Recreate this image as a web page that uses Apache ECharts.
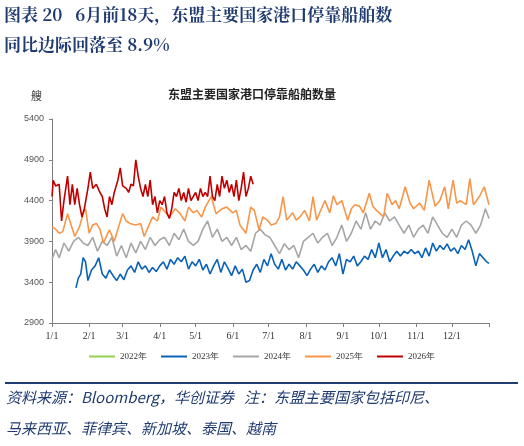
<!DOCTYPE html>
<html><head><meta charset="utf-8">
<script src="https://cdn.jsdelivr.net/npm/echarts@6/dist/echarts.min.js"></script>
<style>html,body{margin:0;padding:0;background:#fff}#c{width:524px;height:446px}</style>
</head><body><div id="c"></div>
<script>
const monthStarts = [0,31,59,90,120,151,181,212,243,273,304,334];
const monthLabels = ['1/1','2/1','3/1','4/1','5/1','6/1','7/1','8/1','9/1','10/1','11/1','12/1'];
const yTicks = [2900,3400,3900,4400,4900,5400];
const seriesNames = ['2022年','2023年','2024年','2025年','2026年'];
const seriesColors = ['#92d050','#0a62b8','#a6a6a6','#f7964a','#c00000'];

const days2023 = [20,22,24,26,28,30,33,36,39,42,45,48,51,54,57,60,63,66,69,72,75,78,81,84,87,90,93,96,99,102,105,108,111,114,117,120,123,126,129,132,135,138,141,144,147,150,153,156,159,162,165,168,171,174,177,180,183,186,189,192,195,198,201,204,207,210,213,216,219,222,225,228,231,234,237,240,243,246,249,252,255,258,261,264,267,270,273,276,279,282,285,288,291,294,297,300,303,306,309,312,315,318,321,324,327,330,333,336,339,342,345,348,351,354,357,360,363,365];
const vals2023 = [3330,3450,3500,3700,3650,3420,3550,3600,3700,3500,3450,3550,3480,3420,3500,3430,3550,3600,3520,3650,3560,3600,3520,3580,3530,3600,3650,3560,3680,3620,3700,3650,3720,3560,3650,3600,3680,3550,3620,3500,3600,3680,3520,3650,3570,3480,3600,3500,3560,3400,3420,3550,3620,3520,3680,3600,3750,3620,3560,3680,3550,3620,3560,3650,3600,3550,3480,3560,3620,3520,3600,3550,3650,3700,3600,3750,3500,3680,3650,3720,3600,3650,3720,3680,3800,3700,3880,3700,3800,3650,3720,3780,3720,3780,3750,3800,3750,3780,3700,3820,3720,3880,3780,3850,3800,3870,3780,3820,3750,3850,3800,3920,3780,3600,3750,3700,3650,3630];

const days2024 = [0,3,6,10,14,18,22,26,30,34,38,42,46,50,54,58,62,66,70,74,78,82,86,90,94,98,102,106,110,114,118,122,126,130,134,138,142,146,150,154,158,162,166,170,174,178,182,186,190,194,198,202,206,210,214,218,222,226,230,234,238,242,246,250,254,258,262,266,270,274,278,282,286,290,294,298,302,306,310,314,318,322,326,330,334,338,342,346,350,354,358,362,365];
const vals2024 = [3680,3800,3700,3880,3780,3900,3950,3880,3850,3950,3780,3900,3850,3950,3720,3850,3700,3880,3760,3900,3800,3950,3850,3920,3950,3850,4000,3920,4050,3900,3850,3900,4050,4150,3950,4050,3900,3950,3850,3950,3800,3850,3780,4000,4050,3980,3950,3850,3750,3870,3800,3850,3700,3900,3950,4000,3880,3950,4000,3850,3950,4100,3900,4000,4150,4050,4250,4050,4150,4100,4250,4150,4200,4100,4000,4100,3950,4050,4100,4000,4200,4100,4000,3950,4050,3950,4100,4150,4100,4000,4100,4300,4180];

const days2025 = [0,3,6,9,13,16,19,23,26,28,31,34,37,40,43,46,48,52,55,59,62,65,70,74,77,81,84,88,91,95,98,103,107,111,114,118,121,125,128,133,137,142,146,151,154,157,162,166,169,173,176,180,183,187,190,193,196,201,204,207,211,215,218,221,225,228,232,235,238,242,247,250,253,257,260,265,268,271,277,280,284,287,290,295,299,302,307,311,315,320,324,328,331,335,338,341,346,349,352,357,361,365];
const vals2025 = [4080,4050,4000,4020,4240,4100,3960,4080,4240,4300,4000,4100,4120,4050,3880,3980,4040,3900,4050,4240,4150,4120,4100,4120,3960,4100,4200,4150,4320,4250,4200,4300,4240,4150,4320,4250,4280,4200,4320,4450,4240,4300,4320,4250,4280,4100,4000,4320,4280,4040,4200,4160,4100,4120,4200,4450,4160,4250,4160,4200,4280,4150,4450,4160,4300,4400,4250,4460,4350,4400,4160,4300,4350,4330,4250,4490,4330,4280,4200,4490,4350,4400,4300,4570,4370,4300,4370,4280,4650,4330,4400,4570,4300,4650,4370,4400,4350,4670,4350,4450,4570,4350,4450];

const days2026 = [0,1,3,6,8,10,13,15,17,19,21,23,25,27,30,32,34,37,40,42,44,46,48,50,52,55,57,59,62,64,66,68,70,72,74,76,78,80,82,84,86,88,90,92,94,96,98,100,102,104,106,108,110,112,114,116,118,120,122,124,126,128,130,132,134,136,138,140,142,144,146,148,150,152,154,156,158,160,162,164,166,168];
const vals2026 = [4450,4650,4580,4600,4150,4400,4700,4350,4600,4350,4550,4350,4200,4300,4550,4750,4550,4600,4500,4450,4300,4200,4450,4350,4500,4650,4800,4580,4550,4500,4600,4580,4900,4700,4550,4450,4600,4450,4650,4350,4450,4250,4400,4350,4450,4250,4180,4300,4500,4450,4550,4400,4500,4380,4550,4400,4450,4500,4400,4550,4450,4500,4450,4700,4450,4400,4600,4450,4700,4550,4650,4500,4600,4450,4650,4400,4550,4750,4450,4550,4700,4600];

const zip = (d,v) => d.map((x,i)=>[x,v[i]]);
const dataSets = [[], zip(days2023,vals2023), zip(days2024,vals2024), zip(days2025,vals2025), zip(days2026,vals2026)];

const chart = echarts.init(document.getElementById('c'));
const serif = "'Liberation Serif','DejaVu Serif',serif";
chart.setOption({
  animation:false,
  backgroundColor:'#fff',
  grid:{left:52,right:35,top:119,bottom:123},
  xAxis:{type:'value',min:0,max:365,
    axisLine:{lineStyle:{color:'#7f7f7f'}},
    axisTick:{show:true,customValues:monthStarts.concat([365]),length:4,inside:false,lineStyle:{color:'#7f7f7f'}},
    axisLabel:{customValues:monthStarts,formatter:v=>monthLabels[monthStarts.indexOf(v)],color:'#333',fontFamily:serif,fontSize:10},
    splitLine:{show:false}},
  yAxis:{type:'value',min:2900,max:5400,interval:500,
    axisLine:{show:true,lineStyle:{color:'#7f7f7f'}},
    axisTick:{show:true,length:3,lineStyle:{color:'#7f7f7f'}},
    axisLabel:{color:'#555',fontFamily:"'Liberation Sans',sans-serif",fontSize:9,formatter:v=>yTicks.includes(v)?String(v):''},
    splitLine:{show:false}},
  legend:{bottom:80,left:'center',itemWidth:26,itemHeight:2,itemGap:14,icon:'rect',
    textStyle:{fontFamily:serif,fontSize:9,color:'#333'},data:seriesNames},
  series:seriesNames.map((n,i)=>({name:n,type:'line',data:dataSets[i],showSymbol:false,symbol:'none',
    lineStyle:{width:1.6,color:seriesColors[i]},itemStyle:{color:seriesColors[i]},z:i})),
  graphic:[
    {type:'text',left:4,top:6,style:{text:'图表 20   6月前18天，东盟主要国家港口停靠船舶数',font:"bold 17px 'Noto Serif CJK SC','Noto Sans CJK SC',serif",fill:'#1f3b70'}},
    {type:'text',left:4,top:36,style:{text:'同比边际回落至 8.9%',font:"bold 17px 'Noto Serif CJK SC','Noto Sans CJK SC',serif",fill:'#1f3b70'}},
    {type:'text',left:168,top:88,style:{text:'东盟主要国家港口停靠船舶数量',font:"bold 12px 'Noto Sans CJK SC',serif",fill:'#222'}},
    {type:'text',left:31,top:90,style:{text:'艘',font:"11px 'Noto Sans CJK SC',serif",fill:'#444'}},
    {type:'rect',shape:{x:5,y:382,width:513,height:2},style:{fill:'#1f3b70'}},
    {type:'text',left:6,top:390,style:{text:'资料来源：Bloomberg，华创证券   注：东盟主要国家包括印尼、',font:"italic 15px 'Noto Sans CJK SC',serif",fill:'#1f3b70'}},
    {type:'text',left:6,top:421,style:{text:'马来西亚、菲律宾、新加坡、泰国、越南',font:"italic 15px 'Noto Sans CJK SC',serif",fill:'#1f3b70'}}
  ]
});
</script></body></html>
